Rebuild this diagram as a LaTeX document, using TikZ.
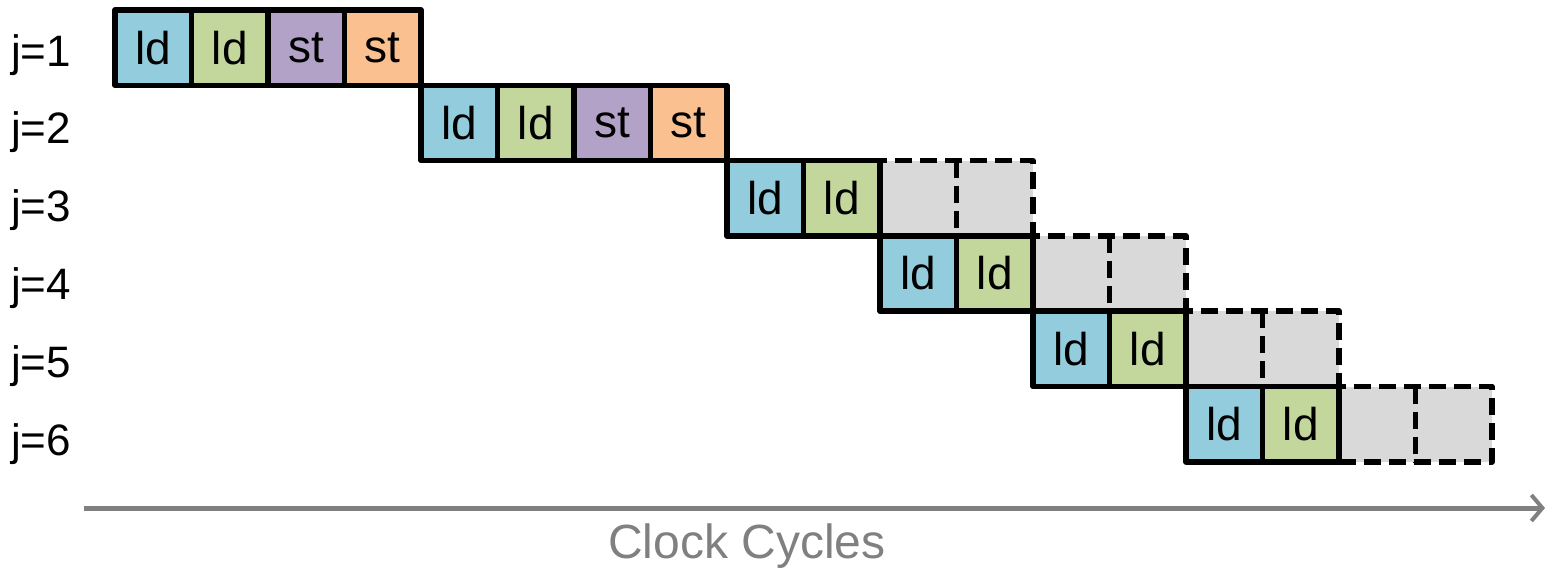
\documentclass[tikz,border=0pt]{standalone}
\usepackage{fontspec}
\setmainfont{Liberation Sans}
\usetikzlibrary{arrows.meta}
\definecolor{cblue}{HTML}{93CDDD}
\definecolor{cgreen}{HTML}{C3D69B}
\definecolor{cpurple}{HTML}{B3A2C7}
\definecolor{corange}{HTML}{FAC090}
\definecolor{cgray}{HTML}{D9D9D9}
\definecolor{axgray}{HTML}{808080}
\tikzset{
  cell/.style={rectangle, inner sep=0pt, outer sep=0pt, minimum width=76.5pt, minimum height=75.3pt,
    line width=5.5pt, font=\fontsize{46}{50}\selectfont},
  solidcell/.style={cell, draw=black, line join=round},
  emptycell/.style={cell, fill=cgray},
  dashedge/.style={draw=black, line width=5.5pt, dash pattern=on 17pt off 8pt, line join=round},
  rowlabel/.style={anchor=base west, inner sep=0pt, font=\fontsize{44}{48}\selectfont},
  axis/.style={draw=axgray, line width=5pt, -{Straight Barb[length=11pt,width=26pt,line width=4pt]}},
  axlabel/.style={text=axgray, inner sep=0pt, font=\fontsize{48}{52}\selectfont}
}
\begin{document}
\begin{tikzpicture}[x=1pt,y=-1pt]
\useasboundingbox (0,0) rectangle (1546,570);
% empty (dashed) cells first
\foreach \r/\s in {3/8,4/10,5/12,6/14}{
  \foreach \c in {2,3}{
    \node[emptycell] (c\r-\c) at ({115+76.5*(\s+\c)+38.25},{10+75.3*(\r-1)+37.65}) {};
  }
  \draw[dashedge] (c\r-2.north west) rectangle (c\r-3.south east);
  \draw[dashedge] (c\r-2.north east) -- (c\r-2.south east);
}
% row 1 and 2
\foreach \r/\s in {1/0,2/4}{
  \foreach \c/\col/\t in {0/cblue/ld,1/cgreen/ld,2/cpurple/st,3/corange/st}{
    \node[solidcell, fill=\col] (c\r-\c) at ({115+76.5*(\s+\c)+38.25},{10+75.3*(\r-1)+37.65}) {\t};
  }
}
% rows 3-6 colored cells
\foreach \r/\s in {3/8,4/10,5/12,6/14}{
  \foreach \c/\col/\t in {0/cblue/ld,1/cgreen/ld}{
    \node[solidcell, fill=\col] (c\r-\c) at ({115+76.5*(\s+\c)+38.25},{10+75.3*(\r-1)+37.65}) {\t};
  }
}
% row labels
\foreach \r in {1,...,6}{
  \node[rowlabel] (lab\r) at (11,{66+77.8*(\r-1)}) {j=\r};
}
% axis
\coordinate (ax0) at (84,508);
\coordinate (ax1) at (1545,508);
\draw[axis] (ax0) -- (ax1);
\node[axlabel] (axl) at (747,546) {Clock Cycles};
\end{tikzpicture}
\end{document}
